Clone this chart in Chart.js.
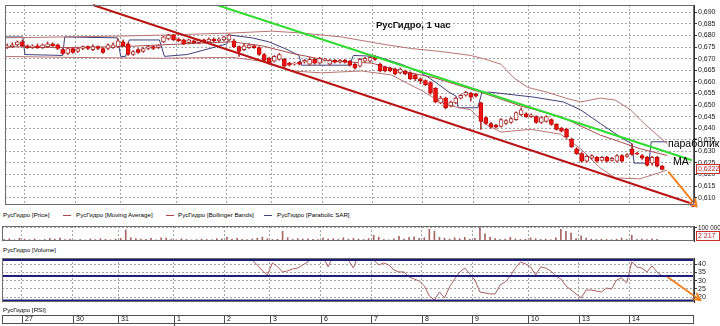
<!DOCTYPE html>
<html>
<head>
<meta charset="utf-8">
<script src="https://cdn.jsdelivr.net/npm/chart.js"></script>
<style>
  html, body { margin: 0; padding: 0; background: #fff; }
  #wrap { position: relative; width: 720px; height: 326px; overflow: hidden; font-family: 'Liberation Sans', Arial, sans-serif; }
  canvas { position: absolute; left: 0; }
  .txt { position: absolute; white-space: nowrap; color: #000; font-size: 6.2px; line-height: 8px; }
  .mk { position: absolute; height: 1px; width: 8px; }
  .big { font-size: 10.5px; line-height: 12px; color: #000; }
</style>
</head>
<body>
<div id="wrap">
  <canvas id="priceChart" width="720" height="210" style="top:0"></canvas>
  <canvas id="volChart" width="720" height="17" style="top:225px"></canvas>
  <canvas id="rsiChart" width="720" height="70" style="top:256px"></canvas>

  <div class="txt" style="left:376px;top:19px;font-size:9.5px;line-height:11px;font-weight:bold;color:#111;">РусГидро, 1 час</div>
  <div class="txt big" style="left:668px;top:137px;">параболик</div>
  <div class="txt big" style="left:673px;top:155px;">MA</div>

  <div class="txt" style="left:3px;top:211px;">РусГидро [Price]</div>
  <div class="mk" style="left:63px;top:215px;background:#b04848;"></div>
  <div class="txt" style="left:76px;top:211px;">РусГидро [Moving Average]</div>
  <div class="mk" style="left:166px;top:215px;background:#b04848;"></div>
  <div class="txt" style="left:178px;top:211px;">РусГидро [Bollinger Bands]</div>
  <div class="mk" style="left:264px;top:215px;background:#40407a;"></div>
  <div class="txt" style="left:277px;top:211px;">РусГидро [Parabolic SAR]</div>

  <div class="txt" style="left:3px;top:246px;">РусГидро [Volume]</div>
  <div class="txt" style="left:3px;top:306px;">РусГидро [RSI]</div>
</div>

<script>
// ============================================
// DATA — hourly candles (index = candle number)
// ============================================
const open  = [0.6748,0.6752,0.6760,0.6773,0.6756,0.6748,0.6756,0.6748,0.6752,0.6764,
               0.6760,0.6739,0.6723,0.6744,0.6731,0.6744,0.6752,0.6739,0.6752,0.6744,
               0.6744,0.6748,0.6752,0.6773,0.6764,0.6718,0.6739,0.6731,0.6744,0.6752,
               0.6748,0.6773,0.6785,0.6802,0.6785,0.6781,0.6769,0.6777,0.6769,0.6781,
               0.6773,0.6785,0.6777,0.6781,0.6781,0.6777,0.6752,0.6739,0.6748,0.6756,
               0.6748,0.6718,0.6702,0.6689,0.6697,0.6697,0.6681,0.6676,0.6685,0.6685,
               0.6676,0.6697,0.6681,0.6693,0.6676,0.6693,0.6685,0.6693,0.6689,0.6676,
               0.6668,0.6689,0.6689,0.6706,0.6676,0.6664,0.6660,0.6655,0.6639,0.6647,
               0.6639,0.6630,0.6613,0.6605,0.6597,0.6572,0.6509,0.6530,0.6496,0.6509,
               0.6530,0.6542,0.6551,0.6546,0.6509,0.6446,0.6420,0.6412,0.6408,0.6420,
               0.6425,0.6437,0.6458,0.6462,0.6450,0.6450,0.6425,0.6429,0.6437,0.6416,
               0.6400,0.6395,0.6353,0.6311,0.6290,0.6257,0.6270,0.6274,0.6261,0.6274,
               0.6261,0.6257,0.6282,0.6278,0.6311,0.6292,0.6282,0.6274,0.6249,0.6274,
               0.6236];
const high  = [0.6764,0.6769,0.6777,0.6781,0.6760,0.6760,0.6764,0.6764,0.6773,0.6769,
               0.6764,0.6744,0.6748,0.6748,0.6748,0.6756,0.6756,0.6760,0.6756,0.6748,
               0.6764,0.6769,0.6785,0.6781,0.6769,0.6735,0.6744,0.6748,0.6756,0.6756,
               0.6760,0.6798,0.6806,0.6806,0.6790,0.6785,0.6785,0.6781,0.6785,0.6785,
               0.6790,0.6790,0.6790,0.6798,0.6806,0.6785,0.6756,0.6764,0.6764,0.6760,
               0.6752,0.6723,0.6706,0.6714,0.6723,0.6702,0.6685,0.6685,0.6689,0.6697,
               0.6706,0.6702,0.6706,0.6702,0.6697,0.6697,0.6697,0.6697,0.6693,0.6681,
               0.6702,0.6706,0.6714,0.6714,0.6681,0.6668,0.6664,0.6660,0.6660,0.6651,
               0.6643,0.6634,0.6618,0.6609,0.6601,0.6576,0.6538,0.6534,0.6517,0.6534,
               0.6546,0.6559,0.6555,0.6551,0.6513,0.6450,0.6425,0.6416,0.6441,0.6437,
               0.6446,0.6471,0.6488,0.6467,0.6462,0.6454,0.6450,0.6454,0.6441,0.6420,
               0.6404,0.6400,0.6357,0.6316,0.6295,0.6282,0.6286,0.6278,0.6278,0.6278,
               0.6274,0.6286,0.6286,0.6290,0.6332,0.6295,0.6286,0.6278,0.6278,0.6278,
               0.6240];
const low   = [0.6744,0.6748,0.6756,0.6752,0.6744,0.6744,0.6744,0.6744,0.6748,0.6752,
               0.6739,0.6718,0.6718,0.6723,0.6727,0.6739,0.6739,0.6735,0.6739,0.6723,
               0.6739,0.6744,0.6748,0.6752,0.6714,0.6714,0.6723,0.6727,0.6739,0.6739,
               0.6744,0.6769,0.6781,0.6777,0.6773,0.6760,0.6764,0.6764,0.6764,0.6769,
               0.6769,0.6773,0.6773,0.6777,0.6777,0.6748,0.6710,0.6735,0.6744,0.6744,
               0.6714,0.6689,0.6676,0.6685,0.6693,0.6660,0.6668,0.6672,0.6672,0.6681,
               0.6672,0.6676,0.6676,0.6689,0.6672,0.6681,0.6681,0.6681,0.6668,0.6655,
               0.6664,0.6685,0.6685,0.6693,0.6643,0.6643,0.6643,0.6630,0.6634,0.6630,
               0.6609,0.6605,0.6592,0.6584,0.6546,0.6509,0.6505,0.6483,0.6492,0.6505,
               0.6526,0.6538,0.6517,0.6534,0.6395,0.6416,0.6399,0.6400,0.6404,0.6416,
               0.6420,0.6433,0.6454,0.6446,0.6446,0.6420,0.6420,0.6425,0.6412,0.6391,
               0.6383,0.6357,0.6316,0.6286,0.6253,0.6253,0.6265,0.6253,0.6257,0.6253,
               0.6257,0.6253,0.6253,0.6274,0.6282,0.6286,0.6265,0.6236,0.6240,0.6232,
               0.6219];
const close = [0.6756,0.6760,0.6773,0.6756,0.6748,0.6756,0.6748,0.6760,0.6764,0.6756,
               0.6744,0.6723,0.6744,0.6727,0.6744,0.6752,0.6744,0.6752,0.6744,0.6727,
               0.6760,0.6760,0.6777,0.6756,0.6718,0.6731,0.6727,0.6744,0.6752,0.6744,
               0.6756,0.6794,0.6802,0.6781,0.6777,0.6764,0.6781,0.6769,0.6781,0.6773,
               0.6785,0.6777,0.6785,0.6794,0.6802,0.6752,0.6731,0.6756,0.6760,0.6748,
               0.6718,0.6693,0.6681,0.6710,0.6718,0.6668,0.6672,0.6681,0.6676,0.6693,
               0.6697,0.6681,0.6702,0.6697,0.6693,0.6685,0.6693,0.6685,0.6672,0.6660,
               0.6697,0.6702,0.6706,0.6697,0.6647,0.6647,0.6647,0.6634,0.6655,0.6634,
               0.6613,0.6613,0.6605,0.6588,0.6551,0.6513,0.6530,0.6488,0.6513,0.6530,
               0.6542,0.6555,0.6534,0.6538,0.6429,0.6420,0.6404,0.6404,0.6437,0.6433,
               0.6441,0.6467,0.6479,0.6450,0.6458,0.6425,0.6446,0.6450,0.6416,0.6395,
               0.6387,0.6362,0.6320,0.6290,0.6257,0.6278,0.6282,0.6257,0.6274,0.6257,
               0.6270,0.6282,0.6257,0.6286,0.6286,0.6288,0.6270,0.6240,0.6274,0.6236,
               0.6222];

const volume = [12000,18000,9000,22000,14000,10000,16000,8000,12000,20000,
                15000,22000,10000,14000,9000,12000,8000,16000,11000,18000,
                13000,9000,15000,20000,85000,25000,18000,14000,12000,20000,
                9000,25000,22000,14000,10000,18000,12000,8000,11000,15000,
                12000,10000,18000,16000,28000,14000,20000,12000,10000,15000,
                22000,30000,18000,12000,14000,75000,25000,12000,18000,14000,
                16000,12000,10000,22000,14000,18000,12000,25000,14000,20000,
                15000,12000,18000,44000,30000,12000,9000,16000,35000,14000,
                28000,32000,20000,25000,90000,75000,28000,22000,14000,25000,
                18000,28000,14000,20000,105000,55000,30000,18000,12000,14000,
                28000,16000,12000,14000,25000,18000,12000,14000,10000,25000,
                90000,75000,60000,18000,40000,22000,14000,12000,14000,12000,
                10000,14000,22000,12000,45000,12000,14000,10000,16000,12000,
                2217];

const rsi = [55,57,60,52,50,53,49,54,56,52,
             48,45,50,46,49,52,50,53,50,46,
             54,55,60,55,45,48,46,50,53,51,
             52,62,65,58,55,52,55,53,56,54,
             57,55,57,60,62,50,43.3,47,46,42.6,
             39.5,36,33.5,40.8,38.5,35.3,36,37.1,37.7,39.6,
             41.4,46,45,44.5,38.4,45,47,44.5,42.4,37.7,
             46,48,47,42.5,39.6,40.8,39.5,36.5,35.3,35.3,
             32.3,31,29.8,26.8,20.7,18.3,23.1,19.5,26.2,31,
             35.3,37.7,34.1,30.4,23.1,22.5,21.9,21.9,27.4,29.2,
             32.9,37.7,41.4,40.2,38.4,33.5,38.4,37.7,35.9,32.9,
             31,26.8,24.3,21.9,19.5,24.3,24.3,23.7,23.1,25.5,
             24.9,30.4,31.6,28.6,41.4,38.4,37.7,35.3,39,35.3,
             32.9];

// Indicators, read at candle positions
const maX  = [-0.45,11.0,22.9,30.8,44.6,50.5,56.5,64.4,72.3,78.2,84.7,94.0,101.9,109.8,117.7,125.6,131.0];
const maY  = [0.6752,0.6748,0.6752,0.6760,0.6773,0.6756,0.6723,0.6689,0.6681,0.6647,0.6618,0.6555,0.6496,0.6450,0.6370,0.6311,0.6282];

const bbUpX = [-0.45,11.0,22.9,30.8,44.6,52.5,58.4,66.3,74.2,80.2,86.1,92.0,95.0,98.0,100.5,103.3,107.2,110.8,113.8,117.7,120.7,123.7,126.6,131.0];
const bbUpY = [0.6790,0.6794,0.6798,0.6802,0.6811,0.6819,0.6811,0.6794,0.6764,0.6744,0.6731,0.6714,0.6697,0.6676,0.6618,0.6576,0.6555,0.6530,0.6513,0.6530,0.6521,0.6479,0.6416,0.6332];
const bbLoX = [-0.45,11.0,30.8,44.6,50.5,56.5,62.4,70.3,76.2,82.2,87.1,92.0,95.0,98.0,103.9,109.8,113.8,117.7,120.7,125.6,131.0];
const bbLoY = [0.6710,0.6706,0.6702,0.6706,0.6689,0.6647,0.6639,0.6647,0.6630,0.6563,0.6500,0.6479,0.6416,0.6383,0.6395,0.6374,0.6311,0.6228,0.6185,0.6181,0.6219];

const sarX = [-0.45,3.1,3.5,11.0,11.4,21.9,22.5,23.5,24.2,30.2,31.2,35.7,43.6,44.2,48.6,51.9,55.1,57.9,58.4,67.9,68.7,
              73.3,78.2,82.2,85.1,87.7,89.1,89.5,93.4,94.2,96.0,104.5,110.4,113.8,117.7,122.3,124.0,124.4,126.6,127.4,127.8,131.0];
const sarY = [0.6794,0.6794,0.6718,0.6714,0.6794,0.6790,0.6710,0.6710,0.6781,0.6781,0.6710,0.6718,0.6764,0.6802,0.6790,0.6773,0.6744,0.6714,0.6672,0.6672,0.6714,
              0.6710,0.6676,0.6639,0.6597,0.6555,0.6538,0.6488,0.6488,0.6555,0.6555,0.6534,0.6513,0.6479,0.6420,0.6353,0.6332,0.6249,0.6249,0.6257,0.6341,0.6341];

// Hand-drawn lines: trend channel and forecast arrows
const greenLine = [{ x: 41.6, y: 0.6932 }, { x: 135.9, y: 0.6261 }];
const redLine   = [{ x: 17.0, y: 0.6932 }, { x: 136.1, y: 0.6072 }];
const arrowMain = [{ x: 131.2, y: 0.6212 }, { x: 136.8, y: 0.6063 }];
const arrowRsi  = [{ x: 131.0, y: 32.4 }, { x: 137.5, y: 18.2 }];

const rsiLevels = [42.6, 32.9, 17.9];

const dayStart  = [3.5, 13.5, 22.5, 33.5, 43.5, 52.5, 62.5, 72.5, 82.5, 92.5, 103.5, 113.5, 123.5];
const dayLabels = ['27', '30', '31', '1', '2', '3', '6', '7', '8', '9', '10', '13', '14'];

const priceTicks = [0.610,0.615,0.620,0.625,0.630,0.635,0.640,0.645,0.650,0.655,0.660,0.665,0.670,0.675,0.680,0.685,0.690];
const rsiTicks   = [20, 25, 30, 35, 40];
const volTicks   = [100000];

const X_MIN = -0.45, X_MAX = 136.3;

// ============================================
// HELPERS / PLUGINS
// ============================================
const pts = (xs, ys) => xs.map((x, i) => ({ x, y: ys[i] }));
const FONT = "'Liberation Sans', Arial, sans-serif";
const GRID = '#a6a6a6';

function xAxis() {
  return {
    type: 'linear', min: X_MIN, max: X_MAX, offset: false,
    ticks: { display: false },
    grid: { color: GRID, drawTicks: false, offset: false },
    border: { display: false, dash: [2, 2] },
    afterBuildTicks: s => { s.ticks = dayStart.map(v => ({ value: v })); },
    afterFit: s => { s.height = 0; s.paddingLeft = 0; s.paddingRight = 0; }
  };
}

function yAxis(min, max, ticks, fmt, size = 7) {
  return {
    position: 'right', min, max,
    ticks: { color: '#222', font: { family: FONT, size }, padding: 1, autoSkip: false, callback: fmt },
    grid: { color: GRID, tickColor: '#333', tickLength: 3, tickBorderDash: [] },
    border: { color: '#333', dash: [2, 2] },
    afterBuildTicks: s => { s.ticks = ticks.map(v => ({ value: v })); },
    afterFit: s => { s.width = 26; s.paddingTop = 0; s.paddingBottom = 0; }
  };
}

const frame = {
  id: 'frame',
  afterDraw(chart) {
    const a = chart.chartArea, c = chart.ctx;
    c.save();
    c.strokeStyle = '#6c6c6c';
    c.lineWidth = 1;
    c.strokeRect(a.left + 0.5, a.top + 0.5, a.right - a.left - 1, a.bottom - a.top - 1);
    c.restore();
  }
};

const arrows = {
  id: 'arrows',
  afterDatasetsDraw(chart) {
    const c = chart.ctx;
    chart.data.datasets.forEach((ds, k) => {
      if (!ds.arrow) return;
      const p = chart.getDatasetMeta(k).data;
      const a = p[p.length - 2], b = p[p.length - 1];
      const ang = Math.atan2(b.y - a.y, b.x - a.x);
      c.save();
      c.strokeStyle = ds.borderColor;
      c.lineWidth = 2;
      c.beginPath();
      c.moveTo(b.x - 8 * Math.cos(ang - 0.5), b.y - 8 * Math.sin(ang - 0.5));
      c.lineTo(b.x, b.y);
      c.lineTo(b.x - 8 * Math.cos(ang + 0.5), b.y - 8 * Math.sin(ang + 0.5));
      c.stroke();
      c.restore();
    });
  }
};

// value box on the right axis (last price / last volume)
function lastBox(value, text) {
  return {
    id: 'lastBox',
    afterDraw(chart) {
      const c = chart.ctx, a = chart.chartArea;
      let y = Math.round(chart.scales.y.getPixelForValue(value));
      y = Math.min(Math.max(y, a.top + 5), a.bottom - 5);
      c.save();
      c.fillStyle = '#fff';
      c.strokeStyle = '#c83030';
      c.fillRect(a.right + 2, y - 5, 24, 10);
      c.strokeRect(a.right + 2.5, y - 4.5, 23, 9);
      c.fillStyle = '#c02020';
      c.font = `7px ${FONT}`;
      c.textBaseline = 'middle';
      c.fillText(text, a.right + 4, y + 0.5);
      c.restore();
    }
  };
}

const dateRow = {
  id: 'dateRow',
  afterDraw(chart) {
    const c = chart.ctx, xs = chart.scales.x, a = chart.chartArea;
    const top = 59, mid = 67, left = 2, right = a.right;
    c.save();
    c.strokeStyle = '#505050';
    c.lineWidth = 1;
    c.beginPath();
    c.moveTo(left, top + 0.5); c.lineTo(right, top + 0.5);
    c.moveTo(left, mid + 0.5); c.lineTo(right, mid + 0.5);
    c.moveTo(left + 0.5, top); c.lineTo(left + 0.5, mid);
    c.moveTo(right - 0.5, top); c.lineTo(right - 0.5, mid);
    dayStart.forEach(d => {
      const x = Math.round(xs.getPixelForValue(d)) + 0.5;
      c.moveTo(x, top); c.lineTo(x, mid);
    });
    const m = Math.round(xs.getPixelForValue(dayStart[3])) + 0.5;   // start of month
    c.moveTo(m, mid); c.lineTo(m, mid + 4);
    c.stroke();
    c.fillStyle = '#111';
    c.font = `7px ${FONT}`;
    c.textBaseline = 'middle';
    dayLabels.forEach((t, k) => c.fillText(t, Math.round(xs.getPixelForValue(dayStart[k])) + 3, top + 4.5));
    c.restore();
  }
};

const base = {
  responsive: false,
  animation: false,
  plugins: { legend: { display: false }, tooltip: { enabled: false } }
};

// ============================================
// PRICE PANEL
// ============================================
const idx = close.map((_, i) => i);
const isUp = i => close[i] >= open[i];

new Chart(document.getElementById('priceChart'), {
  type: 'bar',
  data: {
    datasets: [
      { type: 'line', data: greenLine, borderColor: '#2fdc2f', borderWidth: 2, pointRadius: 0, order: 0 },
      { type: 'line', data: redLine, borderColor: '#b81414', borderWidth: 2, order: 0, clip: false,
        pointRadius: [0, 2.5], pointBackgroundColor: '#fff', pointBorderColor: '#d01010', pointBorderWidth: 1 },
      { type: 'line', data: arrowMain, borderColor: '#f58220', borderWidth: 2, pointRadius: 0, order: 0, clip: false, arrow: true },
      { data: idx.map(i => ({ x: i, y: [open[i], close[i]] })), grouped: false, barThickness: 4, borderWidth: 1,
        borderSkipped: false, order: 1,
        backgroundColor: c => isUp(c.dataIndex) ? '#ffffff' : '#f01414',
        borderColor: c => isUp(c.dataIndex) ? '#a83838' : '#c00000' },
      { data: idx.map(i => ({ x: i, y: [low[i], high[i]] })), grouped: false, barThickness: 1,
        backgroundColor: '#a83838', order: 2 },
      { type: 'line', data: pts(maX, maY), borderColor: '#a85050', borderWidth: 1, pointRadius: 0, order: 3 },
      { type: 'line', data: pts(bbUpX, bbUpY), borderColor: '#b87474', borderWidth: 1, pointRadius: 0, order: 3 },
      { type: 'line', data: pts(bbLoX, bbLoY), borderColor: '#b87474', borderWidth: 1, pointRadius: 0, order: 3 },
      { type: 'line', data: pts(sarX, sarY), borderColor: '#40407a', borderWidth: 1, pointRadius: 0, order: 3 }
    ]
  },
  options: {
    ...base,
    layout: { padding: { left: 2, top: 2, right: 0, bottom: 2 } },
    scales: {
      x: xAxis(),
      y: yAxis(0.6068, 0.6932, priceTicks, v => v.toFixed(3).replace('.', ','))
    }
  },
  plugins: [frame, arrows, lastBox(close[close.length - 1], '0,6222')]
});

// ============================================
// VOLUME PANEL
// ============================================
new Chart(document.getElementById('volChart'), {
  type: 'bar',
  data: {
    datasets: [
      { data: idx.map(i => ({ x: i, y: volume[i] })), barThickness: 1, backgroundColor: '#a86464', grouped: false }
    ]
  },
  options: {
    ...base,
    layout: { padding: { left: 2, top: 1, right: 0, bottom: 1 } },
    scales: {
      x: xAxis(),
      y: yAxis(0, 115000, volTicks, v => '100 000', 6.3)
    }
  },
  plugins: [frame, lastBox(volume[volume.length - 1], '2 217')]
});

// ============================================
// RSI PANEL (+ date row)
// ============================================
new Chart(document.getElementById('rsiChart'), {
  type: 'line',
  data: {
    datasets: [
      ...rsiLevels.map(v => ({ data: [{ x: X_MIN, y: v }, { x: X_MAX, y: v }], borderColor: '#1c1c7a', borderWidth: 2, pointRadius: 0 })),
      { data: idx.map(i => ({ x: i, y: rsi[i] })), borderColor: '#a86060', borderWidth: 1, pointRadius: 0 },
      { data: arrowRsi, borderColor: '#f58220', borderWidth: 2, pointRadius: 0, clip: false, arrow: true }
    ]
  },
  options: {
    ...base,
    layout: { padding: { left: 2, top: 2, right: 0, bottom: 24 } },
    scales: {
      x: xAxis(),
      y: yAxis(17.0, 43.8, rsiTicks, v => String(v))
    }
  },
  plugins: [frame, arrows, dateRow]
});
</script>
</body>
</html>
